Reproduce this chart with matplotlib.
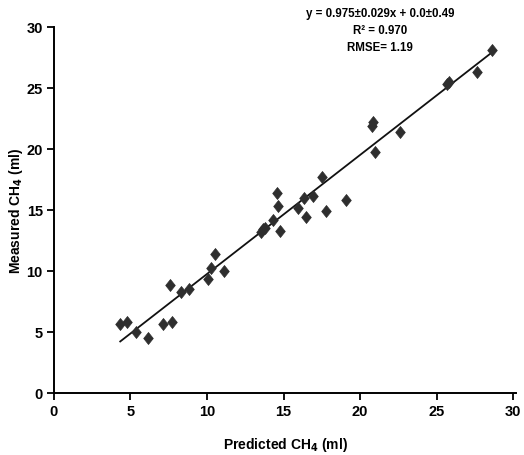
import numpy as np
import matplotlib
matplotlib.use("Agg")
import matplotlib.pyplot as plt
from matplotlib.path import Path

# =========================================================
# DATA
# =========================================================
predicted = [4.33, 4.78, 5.37, 6.13, 7.11, 7.72, 7.59, 8.30, 8.85,
             10.04, 10.26, 10.54, 11.09, 13.50, 13.63, 13.80, 14.28,
             14.55, 14.65, 14.78, 15.96, 16.35, 16.46, 16.92, 17.50,
             17.80, 19.05, 20.75, 20.85, 20.98, 22.60, 25.65, 25.80,
             27.65, 28.60]
measured = [5.69, 5.78, 5.03, 4.53, 5.64, 5.83, 8.83, 8.28, 8.56,
            9.31, 10.28, 11.42, 10.03, 13.20, 13.40, 13.55, 14.18,
            16.42, 15.30, 13.25, 15.14, 15.96, 14.43, 16.15, 17.70,
            14.92, 15.82, 21.90, 22.20, 19.73, 21.40, 25.35, 25.45,
            26.30, 28.10]

slope = 0.975
intercept = 0.0
stats_text = ["y = 0.975\u00b10.029x + 0.0\u00b10.49",
              "R\u00b2 = 0.970",
              "RMSE= 1.19"]

ticks = [0, 5, 10, 15, 20, 25, 30]

# =========================================================
# STYLE
# =========================================================
plt.rcParams["font.family"] = ["Liberation Sans", "DejaVu Sans"]
plt.rcParams["font.weight"] = "bold"

# slightly tall diamond like the reference markers
diamond = Path([(0, 1), (0.8, 0), (0, -1), (-0.8, 0), (0, 1)],
               [Path.MOVETO, Path.LINETO, Path.LINETO, Path.LINETO, Path.CLOSEPOLY])

fig = plt.figure(figsize=(5.24, 4.56), dpi=100)
ax = fig.add_axes([0.103, 0.136, 0.882, 0.803])

# ---- points ----
ax.scatter(predicted, measured, marker=diamond, s=75, color="#2e2e2e",
           edgecolors="#2e2e2e", linewidths=0.5, zorder=3)

# ---- fitted line over the range of predictions ----
x_line = np.array([min(predicted), max(predicted)])
ax.plot(x_line, slope * x_line + intercept, color="#111111", lw=1.3, zorder=2)

# ---- stats text ----
ax.text(0.705, 1.055, "\n".join(stats_text), transform=ax.transAxes,
        ha="center", va="top", fontsize=8.3, fontweight="bold",
        linespacing=1.55)

# ---- axes ----
ax.set_xlim(0, 30.2)
ax.set_ylim(0, 30)
ax.set_xticks(ticks)
ax.set_yticks(ticks)
ax.spines["top"].set_visible(False)
ax.spines["right"].set_visible(False)
ax.spines["left"].set_linewidth(1.4)
ax.spines["bottom"].set_linewidth(1.4)
ax.tick_params(direction="out", length=5, width=1.3, labelsize=10.5, pad=3)
for lbl in ax.get_xticklabels() + ax.get_yticklabels():
    lbl.set_fontweight("bold")

ax.set_xlabel("Predicted CH$_\\mathbf{4}$ (ml)", fontsize=10, fontweight="bold")
ax.set_ylabel("Measured CH$_\\mathbf{4}$ (ml)", fontsize=10, fontweight="bold")
ax.xaxis.set_label_coords(0.5, -0.115)
ax.yaxis.set_label_coords(-0.062, 0.5)

plt.savefig("out.png", dpi=100)
plt.close(fig)
